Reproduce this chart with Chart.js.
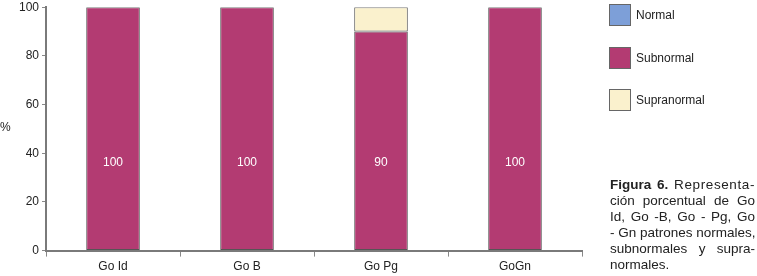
<!DOCTYPE html>
<html>
<head>
<meta charset="utf-8">
<script src="https://cdn.jsdelivr.net/npm/chart.js@4.4.1/dist/chart.umd.min.js"></script>
<style>
    html, body { margin: 0; padding: 0; background: #fff; overflow: hidden; }
    #wrap { position: relative; width: 757px; height: 276px; overflow: hidden; font-family: "Liberation Sans", Arial, sans-serif; color: #222; }
    #chart { position: absolute; left: 0; top: -3px; }
    #ylabel { position: absolute; left: 0; top: 120px; font-size: 12px; }
    #legend { position: absolute; left: 609px; top: 4px; }
    .item { position: absolute; left: 0; height: 22px; white-space: nowrap; font-size: 12px; }
    .item span.box { position: absolute; left: 0; top: 0; width: 22px; height: 22px; border: 1px solid #666; box-sizing: border-box; }
    .item span.txt { position: absolute; left: 27px; top: 4px; }
    #caption { position: absolute; left: 610px; top: 177px; width: 145px; font-size: 13.5px; line-height: 16px; }
    #caption div { text-align: justify; text-align-last: justify; white-space: nowrap; }
    #caption div.last { text-align-last: left; }
    #caption span.wide { letter-spacing: 0.6px; }
</style>
</head>
<body>
<div id="wrap">
    <canvas id="chart" width="757" height="279"></canvas>
    <div id="ylabel">%</div>
    <div id="legend"></div>
    <div id="caption">
        <div><b>Figura 6.</b> <span class="wide">Representa-</span></div>
        <div>ción porcentual de Go</div>
        <div>Id, Go -B, Go - Pg, Go</div>
        <div>- Gn patrones normales,</div>
        <div>subnormales y supra-</div>
        <div class="last">normales.</div>
    </div>
</div>
<script>
// datos
const categories = ["Go Id", "Go B", "Go Pg", "GoGn"];
const normal = [0, 0, 0, 0];
const subnormal = [100, 100, 90, 100];
const supranormal = [0, 0, 10, 0];
const yTicks = [0, 20, 40, 60, 80, 100];

const seriesNames = ["Normal", "Subnormal", "Supranormal"];
const seriesColors = ["#7d9fd8", "#b33b72", "#faf1cd"];

// etiquetas blancas dentro de las barras
const valueLabels = {
    id: "valueLabels",
    afterDatasetsDraw(chart) {
        const ctx = chart.ctx;
        const meta = chart.getDatasetMeta(1);
        const y = chart.scales.y.getPixelForValue(36);
        ctx.save();
        ctx.fillStyle = "#fff";
        ctx.font = "12px 'Liberation Sans', Arial, sans-serif";
        ctx.textAlign = "center";
        ctx.textBaseline = "middle";
        meta.data.forEach((bar, i) => {
            ctx.fillText(String(subnormal[i]), bar.x, y);
        });
        ctx.restore();
    }
};

const ctx = document.getElementById("chart").getContext("2d");
const chart = new Chart(ctx, {
    type: "bar",
    data: {
        labels: categories,
        datasets: [normal, subnormal, supranormal].map((d, i) => ({
            label: seriesNames[i],
            data: d,
            backgroundColor: seriesColors[i],
            borderColor: "#555",
            borderWidth: c => (c.raw ? 1 : 0), // sin borde si el valor es 0
            borderSkipped: false,
            categoryPercentage: 0.4,
            barPercentage: 1,
        })),
    },
    options: {
        responsive: false,
        animation: false,
        layout: { padding: { left: 16, right: 175, top: 0, bottom: -1 } },
        plugins: {
            legend: { display: false },
            tooltip: { enabled: false },
        },
        scales: {
            x: {
                stacked: true,
                grid: { drawOnChartArea: false, drawTicks: true, tickLength: 6, color: "#888", lineWidth: 1 },
                border: { color: "#7a7a7a", width: 2 },
                ticks: { color: "#222", font: { family: "'Liberation Sans', Arial, sans-serif", size: 12 }, padding: 3 },
            },
            y: {
                stacked: true,
                min: 0,
                max: 100,
                afterBuildTicks: axis => { axis.ticks = yTicks.map(v => ({ value: v })); },
                grid: { drawOnChartArea: false, drawTicks: true, tickLength: 4, color: "#888", lineWidth: 1 },
                border: { color: "#7a7a7a", width: 2 },
                ticks: { color: "#222", font: { family: "'Liberation Sans', Arial, sans-serif", size: 12 }, padding: 3 },
            },
        },
    },
    plugins: [valueLabels],
});

// leyenda en HTML a partir de los datasets
const legend = document.getElementById("legend");
chart.data.datasets.forEach((ds, i) => {
    const div = document.createElement("div");
    div.className = "item";
    div.style.top = [0, 43, 85][i] + "px";
    div.innerHTML = `<span class="box" style="background:${ds.backgroundColor}"></span><span class="txt">${ds.label}</span>`;
    legend.appendChild(div);
});
</script>
</body>
</html>
